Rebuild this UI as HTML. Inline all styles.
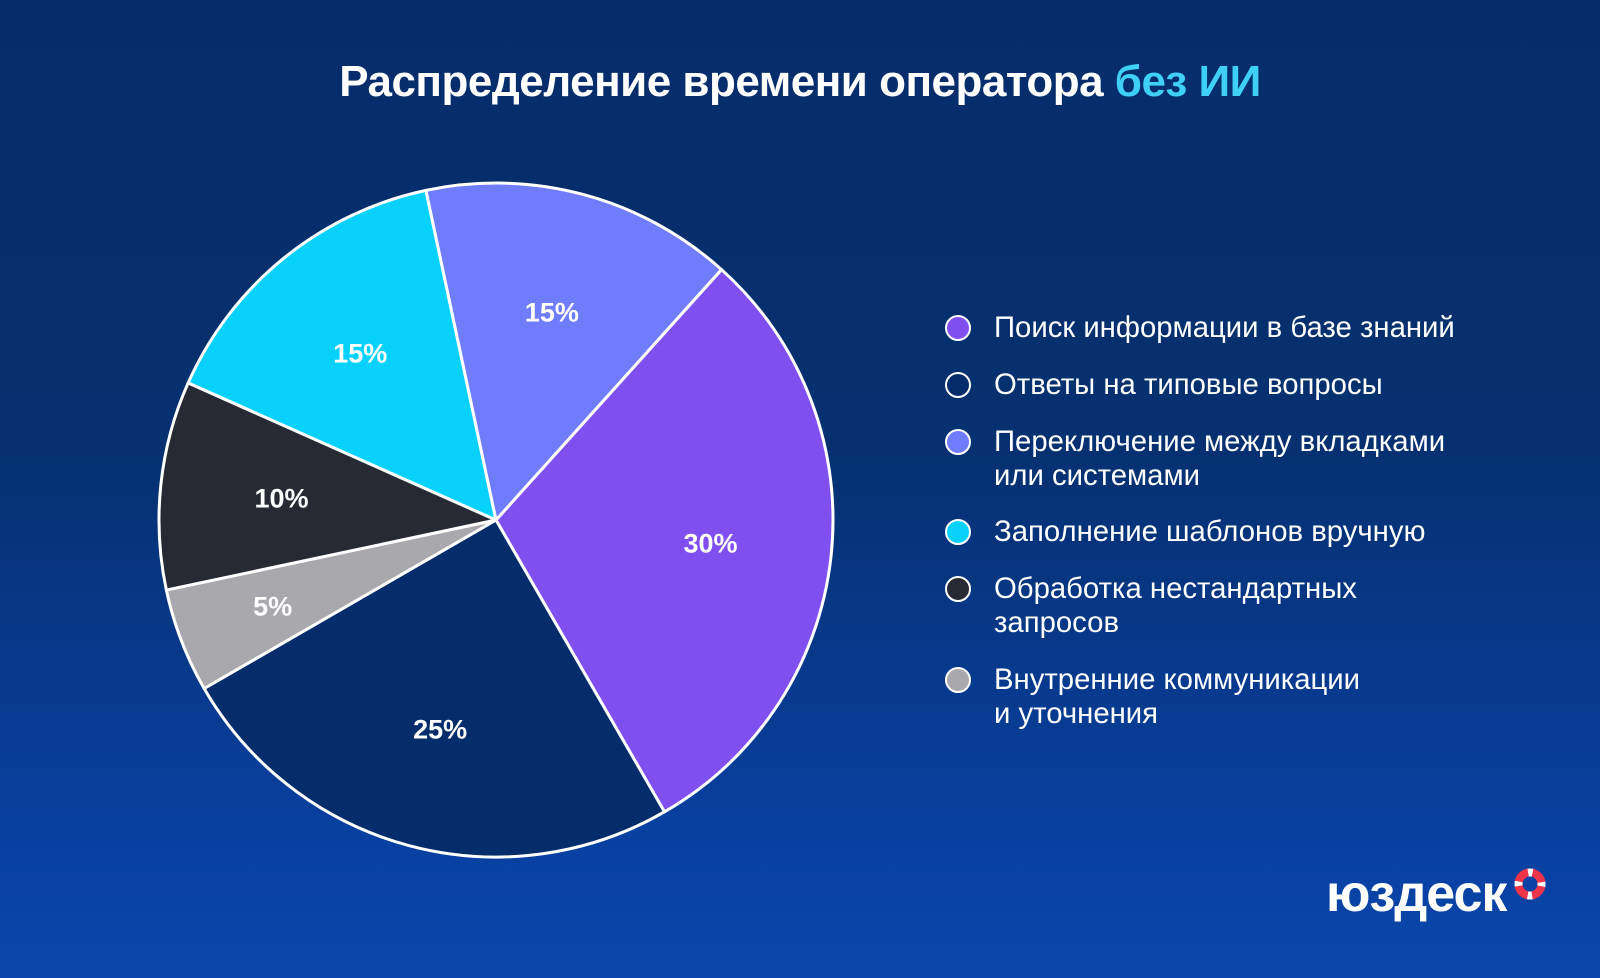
<!DOCTYPE html>
<html><head><meta charset="utf-8">
<style>
html,body{margin:0;padding:0}
body{width:1600px;height:978px;overflow:hidden;background:linear-gradient(180deg,#062d6b 0%,#06306f 45%,#0840a0 85%,#0a46ab 100%);font-family:"Liberation Sans","DejaVu Sans",sans-serif;position:relative}
#title{position:absolute;top:57px;left:0;width:1600px;text-align:center;color:#fff;font-weight:bold;font-size:44px;letter-spacing:-0.5px}
#title span{color:#3fd0f5}
.leg{position:absolute;left:945px;color:#fff;font-size:29.3px;line-height:34px}
.leg i{position:absolute;left:0;top:4px;width:22px;height:22px;border:2px solid #fff;border-radius:50%}
.leg div{margin-left:49px}
#logo{position:absolute;left:1326px;top:864px;color:#fff;font-weight:bold;font-size:52px;letter-spacing:-1px;line-height:60px}
</style></head><body>
<div id="title">Распределение времени оператора <span>без ИИ</span></div>
<svg id="pie" width="1600" height="978" style="position:absolute;left:0;top:0"></svg>
<div class="leg" style="top:311px"><i style="background:#7f4ff0"></i><div>Поиск информации в базе знаний</div></div>
<div class="leg" style="top:368px"><i style="background:#062d6b"></i><div>Ответы на типовые вопросы</div></div>
<div class="leg" style="top:425px"><i style="background:#6f7cfc"></i><div>Переключение между вкладками<br>или системами</div></div>
<div class="leg" style="top:515px"><i style="background:#08d2fc"></i><div>Заполнение шаблонов вручную</div></div>
<div class="leg" style="top:572px"><i style="background:#272a33"></i><div>Обработка нестандартных<br>запросов</div></div>
<div class="leg" style="top:663px"><i style="background:#a9a9ad"></i><div>Внутренние коммуникации<br>и уточнения</div></div>
<div id="logo">юздеск</div>
<svg width="34" height="34" style="position:absolute;left:1513px;top:867px"><circle cx="17" cy="17" r="11.5" fill="none" stroke="#f0344a" stroke-width="8"/><circle cx="17" cy="17" r="11.5" fill="none" stroke="#fff" stroke-width="8" stroke-dasharray="4.5 13.56" stroke-dashoffset="2.25"/></svg>
<script>
const categories=["Поиск информации","Ответы на типовые вопросы","Внутренние коммуникации","Обработка нестандартных","Заполнение шаблонов","Переключение"];
const values=[30,25,5,10,15,15];
const labels=["30%","25%","5%","10%","15%","15%"];
const colors=["#7f4ff0","#062d6b","#a9a9ad","#272a33","#08d2fc","#6f7cfc"];
const svg=document.getElementById('pie');
const NS="http://www.w3.org/2000/svg";
const cx=496,cy=520,r=337,start=42;
const total=values.reduce((a,b)=>a+b,0);
function pt(deg,rad){const a=deg*Math.PI/180;return [cx+rad*Math.sin(a),cy-rad*Math.cos(a)];}
let ang=start;
values.forEach((v,i)=>{
 const sweep=v/total*360;
 const [x1,y1]=pt(ang,r),[x2,y2]=pt(ang+sweep,r);
 const p=document.createElementNS(NS,'path');
 p.setAttribute('d',`M${cx},${cy}L${x1},${y1}A${r},${r} 0 ${sweep>180?1:0} 1 ${x2},${y2}Z`);
 p.setAttribute('fill',colors[i]);p.setAttribute('stroke','#fff');p.setAttribute('stroke-width','3');p.setAttribute('stroke-linejoin','round');
 
 
 svg.appendChild(p);
 const [tx,ty]=pt(ang+sweep/2,r*(v<=5?0.71:0.64));
 const t=document.createElementNS(NS,'text');
 t.setAttribute('x',tx);t.setAttribute('y',ty+10);t.setAttribute('text-anchor','middle');
 t.setAttribute('fill','#fff');t.setAttribute('font-size','27');t.setAttribute('font-weight','bold');
 t.setAttribute('font-family','Liberation Sans, sans-serif');
 t.textContent=labels[i];
 
 
 svg.appendChild(t);
 ang+=sweep;
});
</script>
</body></html>
